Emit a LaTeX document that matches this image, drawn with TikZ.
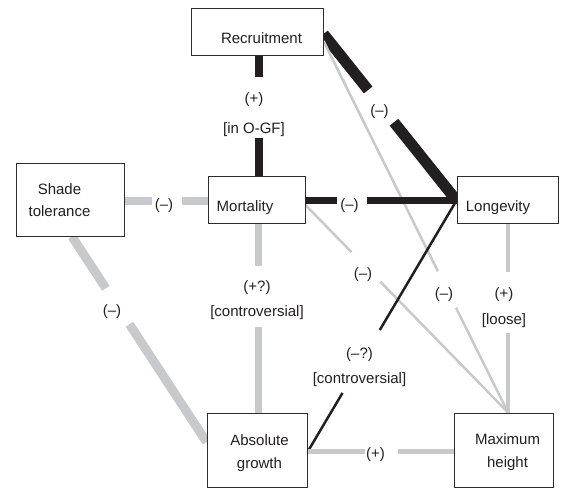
\documentclass[tikz,border=0pt]{standalone}
\usepackage{fontspec}
\setmainfont{Liberation Sans}
\usetikzlibrary{calc,backgrounds}
\definecolor{ink}{RGB}{35,31,32}
\definecolor{lgray}{RGB}{200,201,204}
\definecolor{boxline}{RGB}{45,45,45}
\newcommand{\boxtext}[3]{\makebox[0pt]{\hspace*{#1}\raisebox{#2}[0pt][0pt]{\begin{tabular}[b]{@{}c@{}}#3\end{tabular}}}}
\begin{document}
\begin{tikzpicture}[x=1pt,y=-1pt,
  font=\fontsize{15}{22.5}\selectfont,
  box/.style={draw=boxline, line width=1pt, fill=white, inner sep=0pt, text=ink},
  lab/.style={inner sep=0pt, text=ink, align=center, font=\fontsize{15}{25.5}\selectfont},
  blk/.style={draw=ink, line cap=butt},
  gry/.style={draw=lgray, line cap=butt}]
\useasboundingbox (0,0) rectangle (561,488);

% boxes
\node[box, minimum width=132pt, minimum height=47pt] (rec) at (257,31.5) {\boxtext{9pt}{-11.5pt}{Recruitment}};
\node[box, minimum width=108pt, minimum height=73pt] (shade) at (70,199.5) {\boxtext{-21pt}{-17.2pt}{Shade\\tolerance}};
\node[box, minimum width=97pt, minimum height=47pt] (mort) at (256.5,199.5) {\boxtext{-23pt}{-12.2pt}{Mortality}};
\node[box, minimum width=101pt, minimum height=47pt] (long) at (507.5,199.5) {\boxtext{-19pt}{-12.2pt}{Longevity}};
\node[box, minimum width=100pt, minimum height=74pt] (absg) at (257,450) {\boxtext{5pt}{-18.3pt}{Absolute\\growth}};
\node[box, minimum width=99pt, minimum height=74pt] (maxh) at (503.5,450) {\boxtext{8pt}{-17.3pt}{Maximum\\height}};

% labels
\node[lab] (l1) at (254,114.5) {(+)\\[4.5pt]{}[in O-GF]};
\node[lab] (l2) at (379.5,111.5) {(–)};
\node[lab] (l3) at (444,295) {(–)};
\node[lab] (l4) at (349.5,206) {(–)};
\node[lab] (l5) at (363,274.5) {(–)};
\node[lab] (l6) at (257,300) {(+?)\\{}[controversial]};
\node[lab] (l7) at (164,206) {(–)};
\node[lab] (l8) at (112,311.5) {(–)};
\node[lab] (l9) at (504,307.5) {(+)\\{}[loose]};
\node[lab] (l10) at (359.5,367) {(–?)\\{}[controversial]};
\node[lab] (l11) at (375.5,455) {(+)};

\begin{scope}[on background layer]
% Recruitment -- Mortality
\coordinate (g1a) at (259,77);
\coordinate (g1b) at (259,138);
\draw[blk, line width=7.5pt] ([xshift=2pt]rec.south) -- (g1a);
\draw[blk, line width=7.5pt] (g1b) -- ([xshift=2.5pt]mort.north);
% Recruitment -- Longevity
\coordinate (g2a) at ($([yshift=-2.5pt]rec.east)!0.336!([yshift=-1pt]long.west)$);
\coordinate (g2b) at ($([yshift=-2.5pt]rec.east)!0.53!([yshift=-1pt]long.west)$);
\draw[blk, line width=11pt] ([yshift=-2.5pt]rec.east) -- (g2a);
\draw[blk, line width=11pt] (g2b) -- ([yshift=-1pt]long.west);
% Recruitment -- Maximum height
\coordinate (g3a) at ($([yshift=-9.5pt]rec.east)!0.62!([xshift=4.5pt]maxh.north)$);
\coordinate (g3b) at ($([yshift=-9.5pt]rec.east)!0.718!([xshift=4.5pt]maxh.north)$);
\draw[gry, line width=2.5pt] ([yshift=-9.5pt]rec.east) -- (g3a);
\draw[gry, line width=2.5pt] (g3b) -- ([xshift=4.5pt]maxh.north);
% Mortality -- Longevity
\coordinate (g4a) at (336.7,200.5);
\coordinate (g4b) at (366.7,200.5);
\draw[blk, line width=7pt] ([yshift=-1pt]mort.east) -- (g4a);
\draw[blk, line width=7pt] (g4b) -- ([yshift=-1pt]long.west);
% Mortality -- Maximum height
\coordinate (g5a) at ($([yshift=-5.5pt]mort.east)!0.227!([xshift=4.5pt]maxh.north)$);
\coordinate (g5b) at ($([yshift=-5.5pt]mort.east)!0.37!([xshift=4.5pt]maxh.north)$);
\draw[gry, line width=2.5pt] ([yshift=-5.5pt]mort.east) -- (g5a);
\draw[gry, line width=2.5pt] (g5b) -- ([xshift=4.5pt]maxh.north);
% Mortality -- Absolute growth
\coordinate (g6a) at (258.5,266);
\coordinate (g6b) at (258.5,327);
\draw[gry, line width=7pt] ([xshift=2pt]mort.south) -- (g6a);
\draw[gry, line width=7pt] (g6b) -- ([xshift=1.5pt]absg.north);
% Shade tolerance -- Mortality
\coordinate (g7a) at (152,201);
\coordinate (g7b) at (182,201);
\draw[gry, line width=8pt] ([yshift=-1.5pt]shade.east) -- (g7a);
\draw[gry, line width=8pt] (g7b) -- ([yshift=-1.5pt]mort.west);
% Shade tolerance -- Absolute growth
\coordinate (g8a) at ($([xshift=2pt]shade.south)!0.252!([yshift=8pt]absg.west)$);
\coordinate (g8b) at ($([xshift=2pt]shade.south)!0.427!([yshift=8pt]absg.west)$);
\draw[gry, line width=9pt] ([xshift=2pt]shade.south) -- (g8a);
\draw[gry, line width=9pt] (g8b) -- ([yshift=8pt]absg.west);
% Longevity -- Maximum height
\coordinate (g9a) at (508,272);
\coordinate (g9b) at (508,333);
\draw[gry, line width=4.5pt] ([xshift=0.5pt]long.south) -- (g9a);
\draw[gry, line width=4.5pt] (g9b) -- ([xshift=4.5pt]maxh.north);
% Longevity -- Absolute growth
\coordinate (g10a) at ($([yshift=-1pt]long.west)!0.515!([yshift=-2pt]absg.east)$);
\coordinate (g10b) at ($([yshift=-1pt]long.west)!0.765!([yshift=-2pt]absg.east)$);
\draw[blk, line width=2.5pt] ([yshift=-1pt]long.west) -- (g10a);
\draw[blk, line width=2.5pt] (g10b) -- ([yshift=-2pt]absg.east);
% Absolute growth -- Maximum height
\coordinate (g11a) at (365,451.5);
\coordinate (g11b) at (398,451.5);
\draw[gry, line width=4.5pt] ([yshift=-1.5pt]absg.east) -- (g11a);
\draw[gry, line width=4.5pt] (g11b) -- ([yshift=-1.5pt]maxh.west);
\end{scope}
\end{tikzpicture}
\end{document}
